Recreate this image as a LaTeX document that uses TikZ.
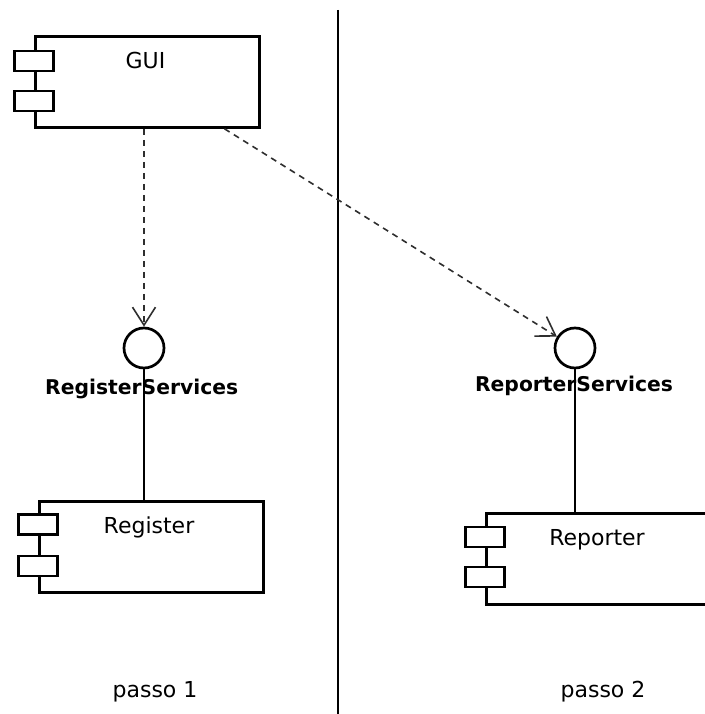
\documentclass[tikz,border=0pt]{standalone}
\usepackage{fontspec}
\setmainfont{DejaVu Sans}
\usetikzlibrary{arrows.meta,calc}
\begin{document}
\begin{tikzpicture}[x=1pt,y=-1pt,
  comp/.style={draw,line width=2.8pt,rectangle,minimum width=224pt,minimum height=91pt,inner sep=0pt,anchor=north west},
  port/.style={draw,line width=2.8pt,rectangle,fill=white,minimum width=39pt,minimum height=20pt,inner sep=0pt},
  iface/.style={draw,line width=2.7pt,circle,minimum size=40pt,inner sep=0pt},
  lbl/.style={font=\fontsize{22}{26}\selectfont,anchor=base,inner sep=0pt},
  ilbl/.style={font=\fontsize{20.3}{24}\selectfont\bfseries,anchor=base,inner sep=0pt},
  dep/.style={draw=black!82,line width=1.6pt,dash pattern=on 6pt off 5pt,-{Straight Barb[length=18pt,width=23pt,line width=1.6pt]}},
  wire/.style={draw,line width=1.1pt}]
\useasboundingbox (0,0) rectangle (704,714);

% divider
\coordinate (dtop) at (338,10);
\coordinate (dbot) at (338,714);
\draw[line width=1.5pt] (dtop) -- (dbot);

% GUI component
\node[comp] (gui) at (34,35) {};
\node[port] (guip1) at (34,61) {};
\node[port] (guip2) at (34,101) {};
\node[lbl] (guit) at (145.5,69) {GUI};

% Register component
\node[comp] (reg) at (38,500) {};
\node[port] (regp1) at (38,524.5) {};
\node[port] (regp2) at (38,566) {};
\node[lbl] (regt) at (149,533) {Register};

% Reporter component
\node[comp] (rep) at (485,512) {};
\node[port] (repp1) at (485,537) {};
\node[port] (repp2) at (485,577) {};
\node[lbl] (rept) at (597,545) {Reporter};

% interfaces
\node[iface] (rs) at (144,348) {};
\node[iface] (ps) at (575,348) {};
\node[ilbl] (rsl) at (141.7,394) {RegisterServices};
\node[ilbl] (psl) at (574,391.5) {ReporterServices};

% wires
\draw[wire] (rs.south) -- (rs.south |- reg.north);
\draw[wire] (ps.south) -- (ps.south |- rep.north);

% dependencies
\coordinate (g1) at (gui.south -| rs);
\coordinate (g2) at ($(gui.south west)!0.84!(gui.south east)$);
\draw[dep] (g1) -- (rs);
\draw[dep] (g2) -- (ps);

% step labels
\node[lbl] (p1) at (155,697) {passo 1};
\node[lbl] (p2) at (603,697) {passo 2};
\end{tikzpicture}
\end{document}
